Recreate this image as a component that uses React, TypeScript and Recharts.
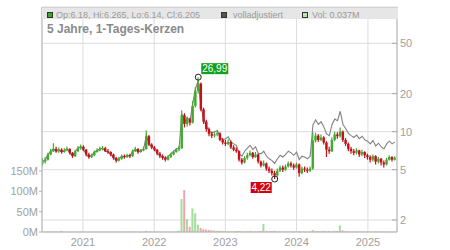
import { Bar, CartesianGrid, ComposedChart, Line, ReferenceDot, XAxis, YAxis } from 'recharts'

const START = Date.UTC(2020, 5, 8)
const DAY = 86400000
const STEP_DAYS = 14

// two-week candles
const opens = [
  5.6, 5.8, 6.0, 6.6, 7.0, 7.3, 7.0, 7.2, 6.9, 7.1,
  7.3, 6.8, 6.4, 7.0, 7.4, 7.6, 7.2, 6.6, 6.3, 6.5,
  6.9, 7.1, 7.3, 7.4, 7.0, 6.9, 6.6, 6.2, 5.9, 6.1,
  6.4, 6.3, 6.5, 6.4, 7.0, 7.3, 6.9, 7.1, 7.3, 9.2,
  7.9, 7.5, 7.2, 6.7, 6.4, 6.2, 6.0, 6.3, 6.6, 6.9,
  7.2, 7.4, 13.5, 11.5, 12.5, 11.8, 16.0, 21.0, 24.0, 15.0,
  12.0, 10.5, 9.6, 9.3, 9.5, 9.7, 8.6, 8.2, 8.0, 8.3,
  7.5, 7.2, 7.0, 6.0, 5.7, 6.2, 6.5, 6.8, 6.3, 6.6,
  5.8, 5.4, 5.6, 5.1, 4.9, 4.7, 4.5, 4.9, 5.2, 5.0,
  5.3, 5.6, 5.4, 5.2, 5.5, 4.7, 5.1, 5.0, 4.9, 5.1,
  8.5, 9.3, 8.6, 9.0, 8.2, 7.2, 7.0, 8.6, 9.5, 9.2,
  10.0, 8.6, 8.0, 7.3, 7.0, 6.8, 7.1, 6.6, 6.9, 6.5,
  6.3, 6.0, 6.4, 5.8, 6.1, 5.7, 5.5, 6.0, 6.3, 6.0,
]
const highs = [
  6.2, 6.3, 6.8, 7.3, 8.1, 7.6, 7.5, 7.4, 7.4, 7.6,
  7.4, 6.9, 7.2, 7.7, 7.9, 7.8, 7.3, 6.8, 6.7, 7.1,
  7.4, 7.6, 7.7, 7.6, 7.3, 7.0, 6.7, 6.3, 6.3, 6.6,
  6.6, 6.7, 6.7, 7.2, 7.6, 7.4, 7.3, 7.6, 10.2, 9.4,
  8.1, 7.7, 7.3, 6.9, 6.6, 6.4, 6.5, 6.8, 7.1, 7.4,
  7.7, 14.8, 14.0, 13.2, 12.9, 17.5, 22.5, 26.99, 24.5, 15.5,
  12.4, 10.8, 10.0, 9.9, 10.2, 9.9, 8.9, 8.6, 8.7, 8.5,
  7.8, 7.5, 7.1, 6.2, 6.4, 6.8, 7.1, 6.9, 6.9, 6.7,
  5.9, 5.9, 5.7, 5.3, 5.1, 4.9, 5.1, 5.4, 5.4, 5.5,
  5.8, 5.8, 5.6, 5.7, 5.6, 5.3, 5.3, 5.2, 5.3, 9.9,
  9.8, 9.6, 9.5, 9.2, 8.4, 7.6, 9.0, 10.0, 9.9, 10.8,
  10.2, 8.9, 8.2, 7.6, 7.3, 7.4, 7.2, 7.2, 7.0, 6.7,
  6.5, 6.6, 6.5, 6.3, 6.2, 5.9, 6.2, 6.5, 6.4, 6.4,
]
const lows = [
  5.4, 5.6, 5.9, 6.5, 6.9, 6.8, 6.8, 6.7, 6.8, 7.0,
  6.6, 6.2, 6.3, 6.9, 7.2, 7.0, 6.4, 6.1, 6.2, 6.4,
  6.8, 7.0, 7.1, 6.9, 6.7, 6.4, 6.0, 5.7, 5.8, 6.0,
  6.1, 6.2, 6.2, 6.3, 6.9, 6.7, 6.8, 7.0, 7.2, 7.7,
  7.3, 7.0, 6.5, 6.2, 6.0, 5.8, 5.9, 6.2, 6.5, 6.8,
  7.0, 7.3, 10.8, 11.0, 11.2, 11.6, 15.5, 20.0, 14.5, 11.5,
  10.0, 9.2, 8.9, 9.0, 9.2, 8.4, 7.9, 7.7, 7.8, 7.3,
  7.0, 6.8, 5.8, 5.5, 5.6, 6.0, 6.4, 6.1, 6.2, 5.6,
  5.2, 5.3, 4.9, 4.7, 4.5, 4.22, 4.4, 4.8, 4.8, 4.9,
  5.2, 5.2, 5.0, 5.1, 4.4, 4.6, 4.8, 4.7, 4.8, 5.0,
  8.2, 8.3, 8.4, 7.9, 6.3, 6.7, 6.9, 8.4, 8.8, 9.0,
  8.3, 7.7, 7.0, 6.7, 6.5, 6.6, 6.3, 6.4, 6.2, 6.0,
  5.7, 5.8, 5.5, 5.6, 5.4, 5.2, 5.4, 5.9, 5.8, 5.9,
]
const closes = [
  5.8, 6.0, 6.6, 7.0, 7.3, 7.0, 7.2, 6.9, 7.1, 7.3,
  6.8, 6.4, 7.0, 7.4, 7.6, 7.2, 6.6, 6.3, 6.5, 6.9,
  7.1, 7.3, 7.4, 7.0, 6.9, 6.6, 6.2, 5.9, 6.1, 6.4,
  6.3, 6.5, 6.4, 7.0, 7.3, 6.9, 7.1, 7.3, 9.2, 7.9,
  7.5, 7.2, 6.7, 6.4, 6.2, 6.0, 6.3, 6.6, 6.9, 7.2,
  7.4, 13.5, 11.5, 12.5, 11.8, 16.0, 21.0, 24.0, 15.0, 12.0,
  10.5, 9.6, 9.3, 9.5, 9.7, 8.6, 8.2, 8.0, 8.3, 7.5,
  7.2, 7.0, 6.0, 5.7, 6.2, 6.5, 6.8, 6.3, 6.6, 5.8,
  5.4, 5.6, 5.1, 4.9, 4.7, 4.5, 4.9, 5.2, 5.0, 5.3,
  5.6, 5.4, 5.2, 5.5, 4.7, 5.1, 5.0, 4.9, 5.1, 8.5,
  9.3, 8.6, 9.0, 8.2, 7.2, 7.0, 8.6, 9.5, 9.2, 10.0,
  8.6, 8.0, 7.3, 7.0, 6.8, 7.1, 6.6, 6.9, 6.5, 6.3,
  6.0, 6.4, 5.8, 6.1, 5.7, 5.5, 6.0, 6.3, 6.0, 6.205,
]
// "volladjustiert" line
const adjusted = [
  5.8, 6.0, 6.6, 7.0, 7.3, 7.0, 7.2, 6.9, 7.1, 7.3,
  6.8, 6.4, 7.0, 7.4, 7.6, 7.2, 6.6, 6.3, 6.5, 6.9,
  7.1, 7.3, 7.4, 7.0, 6.9, 6.6, 6.2, 5.9, 6.1, 6.4,
  6.3, 6.5, 6.4, 7.0, 7.3, 6.9, 7.1, 7.3, 9.3, 8.0,
  7.6, 7.3, 6.8, 6.5, 6.3, 6.1, 6.4, 6.7, 7.0, 7.3,
  7.5, 13.9, 11.9, 12.9, 12.2, 16.8, 22.0, 25.2, 15.8, 12.6,
  11.0, 10.1, 9.8, 10.0, 10.2, 9.0, 8.6, 8.8, 9.1, 8.3,
  8.0, 7.8, 6.7, 6.4, 7.0, 7.4, 7.8, 7.2, 7.6, 6.7,
  6.7, 7.0, 6.4, 6.1, 5.9, 5.6, 6.1, 6.5, 6.3, 6.6,
  7.0, 6.8, 6.5, 6.9, 6.0, 6.4, 6.3, 6.1, 6.4, 11.3,
  12.4, 11.4, 12.0, 10.9, 9.6, 9.3, 11.4, 12.6, 12.2, 14.5,
  11.4, 10.6, 9.7, 9.3, 9.0, 9.4, 8.8, 9.2, 8.6, 8.4,
  8.0, 8.5, 7.7, 8.1, 7.6, 7.3, 8.0, 8.4, 8.0, 8.3,
]
// volume, millions
const volumes = [
  0.8, 1.0, 1.2, 0.9, 1.5, 1.0, 0.8, 2.5, 0.9, 0.7,
  0.8, 0.9, 0.7, 0.8, 0.9, 0.7, 0.8, 0.6, 0.7, 0.8,
  0.7, 0.6, 0.7, 0.8, 0.6, 0.7, 0.8, 0.9, 0.7, 1.5,
  0.7, 0.8, 0.9, 1.5, 0.8, 0.7, 0.9, 1.0, 3.0, 1.5,
  1.0, 0.8, 0.9, 0.8, 0.7, 0.9, 0.8, 0.9, 1.0, 1.2,
  3.0, 81, 103, 32, 13, 58, 46, 18, 10, 7,
  6, 5, 4, 4, 3, 3, 2.5, 2, 2.5, 2,
  1.5, 2, 2.5, 2, 1.5, 2, 3, 2, 1.5, 2,
  2.5, 20, 3, 2, 2.5, 3, 2, 1.5, 2, 1.5,
  2, 1.5, 1.2, 1.5, 2, 1.5, 1.2, 1.0, 1.5, 5,
  3, 2.5, 2, 3, 2, 2.5, 2, 3, 2.5, 16,
  4, 2, 1.5, 1.2, 1.5, 1.0, 1.2, 1.5, 1.0, 1.2,
  1.0, 0.8, 1.2, 1.0, 0.8, 1.5, 1.0, 0.8, 1.0, 0.9,
]

const yearTicks = [2021, 2022, 2023, 2024, 2025]
const priceTicks = [2, 5, 10, 20, 50]
const volumeTicks = [0, 50, 100, 150]

const GREEN = '#44a832'
const RED = '#c4121a'
const GRID = '#dcdcdc'
const AXIS = '#b4b4b4'
const TEXT = '#a0a0a0'

const X_DOMAIN = [Date.UTC(2020, 5, 5), Date.UTC(2025, 4, 30)]

const data = closes.map((c, i) => ({
  t: START + i * STEP_DAYS * DAY,
  range: [lows[i], highs[i]],
  open: opens[i],
  high: highs[i],
  low: lows[i],
  close: c,
  adj: adjusted[i],
  vol: volumes[i],
}))

const peakIdx = highs.indexOf(Math.max(...highs))
const lowIdx = lows.indexOf(Math.min(...lows))

function Candle(props: any) {
  const { x, y, width, height, payload } = props
  if (x == null || y == null || height == null) return null
  const top = Math.min(y, y + height)
  const h = Math.abs(height)
  const { open, close, high, low } = payload
  const lh = Math.log(high)
  const ll = Math.log(low)
  const py = (v: number) => top + ((lh - Math.log(v)) / (lh - ll)) * h
  const color = close >= open ? GREEN : RED
  const cx = x + width / 2
  const bt = py(Math.max(open, close))
  const bb = py(Math.min(open, close))
  return (
    <g>
      <line x1={cx} x2={cx} y1={top} y2={top + h} stroke={color} strokeWidth={1.2} />
      <rect x={x} y={bt} width={width} height={Math.max(bb - bt, 1)} fill={color} />
    </g>
  )
}

function VolBar(props: any) {
  const { x, y, width, height, payload } = props
  if (x == null || y == null || !height) return null
  const up = payload.close >= payload.open
  return <rect x={x} y={y} width={width} height={height} fill={up ? '#a3dc9c' : '#f2a4ac'} />
}

function PriceTick(props: any) {
  const { x, y, payload } = props
  return (
    <g>
      <line x1={x - 5} x2={x} y1={y} y2={y} stroke="#a8a8a8" />
      <text x={x + 3} y={y} dy="0.36em" fontSize={11} fill={TEXT}>
        {payload.value}
      </text>
    </g>
  )
}

function Marker(props: any) {
  const { cx, cy, label, color, dx, dy, w } = props
  return (
    <g>
      <circle cx={cx} cy={cy} r={3} fill="none" stroke="#222" strokeWidth={1} />
      <rect x={cx + dx} y={cy + dy} width={w} height={11} fill={color} />
      <text x={cx + dx + w / 2} y={cy + dy + 9} textAnchor="middle" fontSize={10} fill="#fff">
        {label}
      </text>
    </g>
  )
}

const legendText = { position: 'absolute' as const, top: 10, fontSize: 9, lineHeight: '10px', color: '#9a9a9a', whiteSpace: 'nowrap' as const }
const square = (left: number, bg: string) => ({
  position: 'absolute' as const, left, top: 12, width: 4, height: 4, border: '1px solid #333', background: bg,
})

export default function App() {
  return (
    <div style={{ position: 'absolute', left: 0, top: 0, width: 450, height: 250, fontFamily: '"Liberation Sans", Arial, sans-serif', background: '#fff' }}>
      <ComposedChart width={450} height={250} data={data} margin={{ top: 7, right: 0, bottom: 0, left: 0 }}>
        <CartesianGrid stroke={GRID} yAxisId="price" />
        <XAxis
          dataKey="t"
          type="number"
          domain={X_DOMAIN}
          allowDataOverflow
          ticks={yearTicks.map((yr) => Date.UTC(yr, 0, 1))}
          tickFormatter={(v: number) => String(new Date(v).getUTCFullYear())}
          height={18}
          tickLine={false}
          tickSize={4}
          tickMargin={2}
          axisLine={{ stroke: AXIS }}
          tick={{ fontSize: 11, fill: TEXT }}
        />
        <XAxis xAxisId="v" dataKey="t" type="number" domain={X_DOMAIN} allowDataOverflow hide />
        <YAxis
          yAxisId="vol"
          orientation="left"
          domain={[0, 553]}
          allowDataOverflow
          ticks={volumeTicks}
          tickFormatter={(v: number) => `${v}M`}
          width={42}
          tickSize={3}
          tickMargin={1}
          axisLine={{ stroke: AXIS }}
          tickLine={{ stroke: AXIS }}
          tick={{ fontSize: 11, fill: TEXT }}
        />
        <YAxis
          yAxisId="price"
          orientation="right"
          scale="log"
          domain={[1.607, 96.9]}
          allowDataOverflow
          ticks={priceTicks}
          width={53}
          tickSize={0}
          tickMargin={0}
          tickLine={false}
          axisLine={{ stroke: AXIS }}
          tick={<PriceTick />}
        />
        <Bar xAxisId="v" yAxisId="vol" dataKey="vol" barSize={2} shape={<VolBar />} isAnimationActive={false} />
        <Line
          yAxisId="price"
          dataKey="adj"
          type="linear"
          stroke="#828282"
          strokeWidth={1.1}
          dot={false}
          zIndex={250}
          isAnimationActive={false}
        />
        <Bar yAxisId="price" dataKey="range" barSize={3} shape={<Candle />} zIndex={350} isAnimationActive={false} />
        <ReferenceDot
          yAxisId="price"
          x={data[peakIdx].t}
          y={highs[peakIdx]}
          shape={(p: any) => <Marker {...p} label={highs[peakIdx].toFixed(2).replace('.', ',')} color="#13a01a" dx={3} dy={-14} w={27} />}
        />
        <ReferenceDot
          yAxisId="price"
          x={data[lowIdx].t}
          y={lows[lowIdx]}
          shape={(p: any) => <Marker {...p} label={lows[lowIdx].toFixed(2).replace('.', ',')} color="#d00010" dx={-24} dy={3} w={21} />}
        />
      </ComposedChart>
      <div style={{ position: 'absolute', left: 42, top: 7, width: 356, height: 12, background: '#e6e6e6', borderTop: '1px solid #d2d2d2', boxSizing: 'border-box' }} />
      <div style={square(47, '#3aa82a')} />
      <div style={{ ...legendText, left: 56 }}>Op:6.18, Hi:6.265, Lo:6.14, Cl:6.205</div>
      <div style={square(221, '#555')} />
      <div style={{ ...legendText, left: 233 }}>volladjustiert</div>
      <div style={square(302, '#b8e6b0')} />
      <div style={{ ...legendText, left: 312 }}>Vol: 0.037M</div>
      <div style={{ position: 'absolute', left: 47, top: 22, fontSize: 12, lineHeight: '14px', fontWeight: 'bold', color: '#8a8a8a', whiteSpace: 'nowrap' }}>
        5 Jahre, 1-Tages-Kerzen
      </div>
    </div>
  )
}
